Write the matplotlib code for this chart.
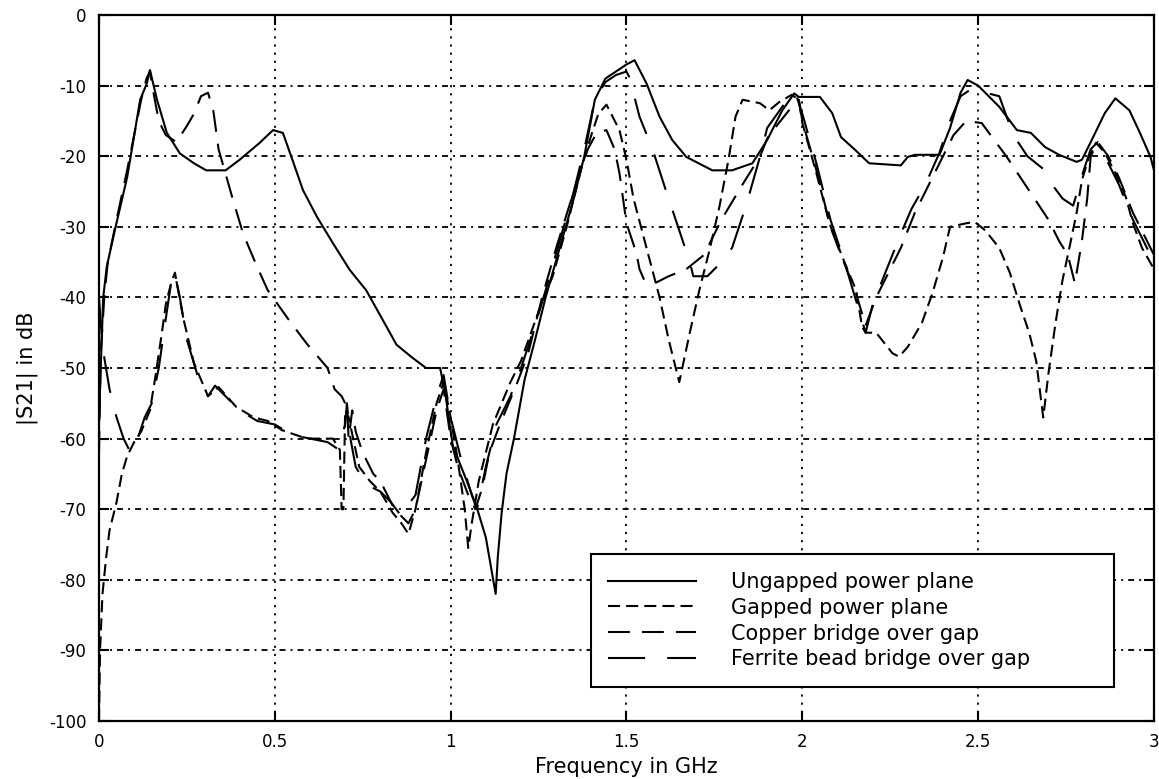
import numpy as np
import matplotlib
matplotlib.use("Agg")
import matplotlib.pyplot as plt

# --------- DATA ---------
# (frequency in GHz, |S21| in dB)
ungapped_pts = [
    (0.0, -58), (0.005, -50), (0.012, -40), (0.022, -35.7), (0.045, -30.5), (0.08, -23),
    (0.097, -18), (0.117, -12), (0.136, -9.7), (0.145, -7.8), (0.165, -12), (0.193, -16.7),
    (0.23, -19.6), (0.27, -21), (0.305, -22), (0.36, -22), (0.40, -20.5), (0.457, -18.1),
    (0.495, -16.3), (0.523, -16.7), (0.55, -20.5), (0.58, -24.8), (0.62, -28.6), (0.665, -32.3),
    (0.713, -36.1), (0.76, -39), (0.807, -43.2), (0.846, -46.7), (0.89, -48.5), (0.93, -50),
    (0.97, -50), (0.977, -51.7), (0.983, -53), (1.006, -61), (1.045, -65.9), (1.074, -69.7),
    (1.10, -74), (1.128, -82), (1.134, -76.8), (1.145, -70.5), (1.159, -64.9), (1.18, -60),
    (1.21, -51.7), (1.24, -46), (1.27, -40), (1.31, -33), (1.35, -26), (1.38, -20),
    (1.41, -12), (1.44, -9), (1.47, -8), (1.5, -7), (1.523, -6.4), (1.557, -9.7),
    (1.594, -14.4), (1.63, -17.7), (1.67, -20.1), (1.744, -22), (1.80, -22), (1.858, -21),
    (1.9, -17.7), (1.943, -13.5), (1.977, -11.1), (1.99, -11.6), (2.05, -11.6), (2.085, -13.9),
    (2.11, -17.3), (2.15, -19.1), (2.19, -21), (2.28, -21.3), (2.30, -20.1), (2.32, -19.8),
    (2.39, -19.8), (2.42, -16), (2.45, -11), (2.47, -9.2), (2.5, -10), (2.56, -13),
    (2.61, -16.3), (2.65, -16.7), (2.69, -18.7), (2.73, -19.8), (2.78, -20.8), (2.795, -20.5),
    (2.82, -18), (2.86, -13.9), (2.89, -11.8), (2.93, -13.5), (2.96, -16.7), (2.99, -20.1),
    (3.0, -22),
]

gapped_pts = [
    (0.0, -100), (0.003, -90), (0.01, -82), (0.02, -77), (0.03, -73), (0.05, -69),
    (0.065, -65), (0.08, -62.5), (0.1, -60.5), (0.12, -59), (0.145, -56), (0.162, -50.7),
    (0.18, -44.6), (0.19, -41), (0.205, -38), (0.216, -36.5), (0.24, -43), (0.27, -49.3),
    (0.31, -54), (0.34, -52.7), (0.39, -55.5), (0.44, -57), (0.48, -57.5), (0.52, -58.8),
    (0.59, -60), (0.665, -60), (0.685, -61.6), (0.69, -70), (0.695, -70), (0.70, -56),
    (0.71, -57), (0.74, -64), (0.77, -66), (0.80, -67.5), (0.835, -70.5), (0.86, -72),
    (0.88, -73.5), (0.90, -70), (0.93, -62), (0.96, -55), (0.98, -52), (1.0, -57),
    (1.02, -63), (1.04, -70), (1.05, -75.5), (1.06, -72), (1.08, -66), (1.12, -58),
    (1.17, -52), (1.2, -49), (1.25, -42), (1.29, -37), (1.33, -30), (1.37, -22),
    (1.40, -17), (1.42, -14), (1.443, -12.7), (1.48, -16.3), (1.5, -20.5), (1.52, -26),
    (1.557, -33), (1.594, -40), (1.62, -46), (1.65, -52), (1.68, -45), (1.707, -39),
    (1.736, -33.3), (1.764, -27.2), (1.79, -20.5), (1.81, -14.4), (1.83, -12), (1.88, -12.5),
    (1.906, -13.5), (1.935, -12.3), (1.97, -11.3), (1.99, -12), (2.0, -15.3), (2.04, -22.4),
    (2.077, -29.5), (2.114, -34.3), (2.153, -39), (2.17, -44.2), (2.18, -45), (2.21, -45),
    (2.256, -47.9), (2.275, -48.4), (2.30, -47), (2.34, -43.6), (2.37, -39.4), (2.40, -34.3),
    (2.42, -30), (2.466, -29.5), (2.49, -29.3), (2.52, -30.5), (2.56, -33), (2.59, -36.5),
    (2.62, -41.3), (2.645, -45), (2.665, -49), (2.675, -53), (2.685, -57), (2.70, -50.7),
    (2.72, -43.6), (2.74, -37.5), (2.758, -33.3), (2.78, -28), (2.795, -23.4), (2.815, -20.1),
    (2.835, -18.1), (2.86, -19.5), (2.89, -22.4), (2.92, -25.8), (2.94, -29.5), (2.966, -33),
    (3.0, -36),
]

copper_pts = [
    (0.0, -62), (0.005, -48), (0.015, -40), (0.025, -35), (0.05, -29), (0.08, -22),
    (0.1, -17), (0.12, -12), (0.135, -9), (0.145, -8), (0.155, -11), (0.17, -15),
    (0.19, -17), (0.22, -18), (0.25, -15.7), (0.27, -14), (0.29, -11.5), (0.31, -11),
    (0.325, -13.5), (0.34, -19), (0.38, -26), (0.41, -31), (0.45, -35.7), (0.48, -39),
    (0.54, -43.2), (0.59, -46.5), (0.65, -50), (0.67, -53), (0.69, -54), (0.705, -55.5),
    (0.71, -60), (0.72, -56), (0.73, -59), (0.75, -62), (0.78, -65), (0.8, -66),
    (0.82, -68), (0.84, -70), (0.86, -71), (0.88, -72), (0.9, -70), (0.93, -63),
    (0.96, -56), (0.98, -53), (1.0, -60), (1.02, -64), (1.05, -68), (1.07, -70),
    (1.09, -67), (1.11, -62), (1.14, -58), (1.19, -52), (1.22, -48), (1.26, -40),
    (1.30, -33), (1.35, -25), (1.39, -19), (1.415, -16.7), (1.443, -16.3), (1.466, -19),
    (1.48, -22.4), (1.5, -29.5), (1.528, -33.7), (1.537, -36), (1.55, -37.5), (1.58, -38),
    (1.62, -37), (1.67, -36), (1.72, -34), (1.77, -29), (1.83, -24), (1.88, -20),
    (1.9, -17.5), (1.93, -15.5), (1.97, -13), (1.99, -12), (2.0, -15), (2.04, -22),
    (2.08, -30), (2.11, -34), (2.15, -39), (2.18, -44), (2.21, -40), (2.24, -37),
    (2.28, -33), (2.32, -28), (2.36, -24), (2.4, -20), (2.43, -17), (2.466, -15),
    (2.51, -15.3), (2.55, -18), (2.58, -20), (2.62, -23), (2.66, -26), (2.7, -29),
    (2.73, -32), (2.755, -34), (2.775, -38), (2.795, -32), (2.81, -26), (2.82, -20),
    (2.84, -18), (2.87, -20), (2.9, -23), (2.94, -28), (2.97, -31), (3.0, -34),
]

ferrite_pts = [
    (0.0, -40), (0.01, -47), (0.03, -53), (0.05, -57), (0.07, -60), (0.09, -62),
    (0.11, -60), (0.13, -57), (0.15, -55), (0.17, -50), (0.19, -43), (0.205, -38),
    (0.215, -36.5), (0.23, -40), (0.25, -46), (0.28, -51), (0.31, -54), (0.33, -52.5),
    (0.36, -54), (0.4, -56), (0.45, -57.5), (0.5, -58), (0.55, -59.5), (0.6, -60),
    (0.65, -60.5), (0.68, -61.5), (0.7, -58), (0.705, -55), (0.715, -60), (0.73, -64),
    (0.76, -66.5), (0.8, -67.5), (0.83, -69), (0.86, -71), (0.87, -70), (0.9, -68),
    (0.93, -60), (0.96, -54), (0.98, -51), (1.0, -57), (1.03, -63), (1.06, -68),
    (1.075, -70), (1.1, -64), (1.13, -58), (1.17, -54), (1.2, -50), (1.24, -44),
    (1.27, -39), (1.31, -32), (1.35, -25), (1.38, -19), (1.41, -12), (1.44, -9.5),
    (1.47, -8.5), (1.5, -8), (1.508, -8.8), (1.537, -14.4), (1.574, -19), (1.613, -25),
    (1.65, -30.5), (1.68, -35), (1.69, -37), (1.73, -37), (1.77, -35), (1.8, -33),
    (1.84, -27), (1.88, -20), (1.9, -16), (1.95, -12.5), (1.98, -11), (2.0, -14),
    (2.04, -21), (2.08, -29), (2.12, -35), (2.15, -40), (2.18, -45), (2.2, -41),
    (2.24, -36), (2.28, -31), (2.31, -27.5), (2.35, -24), (2.39, -19.5), (2.42, -15),
    (2.45, -11.5), (2.48, -10.5), (2.52, -11), (2.56, -11.5), (2.6, -17), (2.64, -20),
    (2.69, -22), (2.71, -24), (2.74, -26), (2.77, -27), (2.8, -22), (2.82, -19),
    (2.84, -18), (2.87, -21), (2.9, -24), (2.94, -29), (2.97, -32), (3.0, -35),
]

series_labels = [
    "Ungapped power plane",
    "Gapped power plane",
    "Copper bridge over gap",
    "Ferrite bead bridge over gap",
]

x_ticks = [0, 0.5, 1, 1.5, 2, 2.5, 3]
x_tick_labels = ["0", "0.5", "1", "1.5", "2", "2.5", "3"]
y_ticks = list(range(-100, 1, 10))
y_tick_labels = [str(v) for v in y_ticks]

# --------- PLOT ---------
plt.rcParams["font.family"] = ["DejaVu Sans"]
plt.rcParams["axes.unicode_minus"] = False

fig = plt.figure(figsize=(11.59, 7.79), dpi=100)
ax = fig.add_axes([0.0854, 0.0745, 0.9103, 0.9062])

styles = [
    dict(linestyle="-"),
    dict(linestyle=(0, (5.8, 2.9))),
    dict(linestyle=(0, (10.5, 5.8))),
    dict(linestyle=(0, (17.8, 10.6))),
]
curves = [ungapped_pts, gapped_pts, copper_pts, ferrite_pts]

for pts, lab, st in zip(curves, series_labels, styles):
    xy = np.array(pts)
    ax.plot(xy[:, 0], xy[:, 1], color="black", lw=1.5, label=lab, **st)

ax.set_xlim(0, 3)
ax.set_ylim(-100, 0)
ax.set_xticks(x_ticks)
ax.set_xticklabels(x_tick_labels)
ax.set_yticks(y_ticks)
ax.set_yticklabels(y_tick_labels)

# matlab-style grid: dash-dot horizontally, dotted vertically
ax.grid(True, axis="y", color="black", lw=1.3, linestyle=(0, (3.3, 2.8, 1.1, 2.8)))
ax.grid(True, axis="x", color="black", lw=1.3, linestyle=(0, (1.2, 3.3)))
ax.set_axisbelow(True)

for sp in ax.spines.values():
    sp.set_linewidth(1.6)
ax.tick_params(direction="in", length=7, width=1.5, top=True, right=True,
               labelsize=12, pad=9)

ax.set_xlabel("Frequency in GHz", fontsize=15, labelpad=4)
ax.set_ylabel("|S21| in dB", fontsize=15, labelpad=8)

leg = ax.legend(loc="lower left", bbox_to_anchor=(0.466, 0.048, 0.496, 0.19),
                mode="expand", borderaxespad=0, fontsize=15, handlelength=4.2,
                handletextpad=1.7, borderpad=0.85, labelspacing=0.28,
                fancybox=False, framealpha=1, edgecolor="black")
leg.get_frame().set_linewidth(1.5)

plt.savefig("out.png", dpi=100)
